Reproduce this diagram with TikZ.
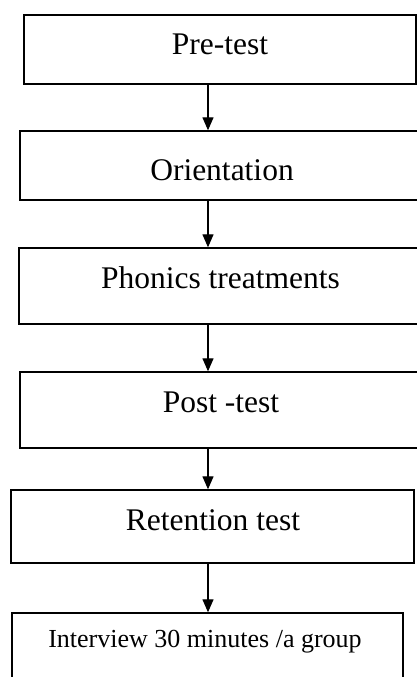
\documentclass[tikz,border=0pt]{standalone}
\usepackage{fontspec}
\setmainfont{Liberation Serif}
\usetikzlibrary{arrows.meta}
\begin{document}
\begin{tikzpicture}[x=1pt,y=-1pt,
  box/.style={draw=black, line width=1.4pt, rectangle, inner sep=0pt},
  lbl/.style={anchor=base, inner sep=0pt, font=\fontsize{31.5}{36}\selectfont},
  lblsmall/.style={anchor=base, inner sep=0pt, font=\fontsize{26}{30}\selectfont},
  arr/.style={line width=1.3pt, -{Triangle[length=13pt,width=11pt]}, shorten >=0pt}]
\useasboundingbox (0,0) rectangle (417,677);
\node[box, minimum width=392pt, minimum height=69pt] (b1) at (220,49.5) {};
\node[box, minimum width=398pt, minimum height=69pt] (b2) at (219,165.5) {};
\node[box, minimum width=399pt, minimum height=76pt] (b3) at (218.5,286) {};
\node[box, minimum width=398pt, minimum height=76pt] (b4) at (219,410) {};
\node[box, minimum width=403pt, minimum height=73pt] (b5) at (212.5,526.5) {};
\node[box, minimum width=391pt, minimum height=77pt] (b6) at (207.5,651.5) {};
\node[lbl] (t1) at (220,55) {Pre-test};
\node[lbl] (t2) at (222,180) {Orientation};
\node[lbl] (t3) at (220.5,288) {Phonics treatments};
\node[lbl] (t4) at (221,412) {Post -test};
\node[lbl] (t5) at (213,530) {Retention test};
\node[lblsmall] (t6) at (205,647) {Interview 30 minutes /a group};
\coordinate (ax) at (208,0);
\draw[arr] (b1.south -| ax) -- (b2.north -| ax);
\draw[arr] (b2.south -| ax) -- (b3.north -| ax);
\draw[arr] (b3.south -| ax) -- (b4.north -| ax);
\draw[arr] (b4.south -| ax) -- (b5.north -| ax);
\draw[arr] (b5.south -| ax) -- (b6.north -| ax);
\end{tikzpicture}
\end{document}
